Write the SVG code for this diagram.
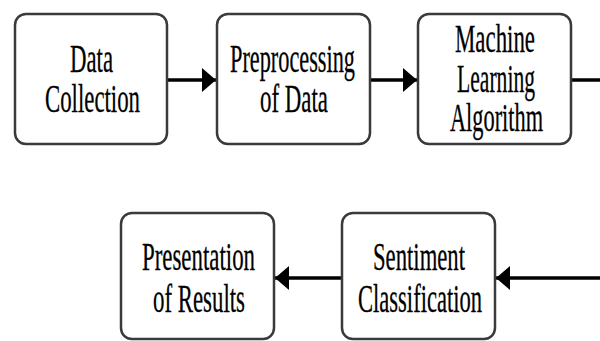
<svg xmlns="http://www.w3.org/2000/svg" width="600" height="341" viewBox="0 0 600 341">
<style>
.box{fill:#fff;stroke:#3a3a3a;stroke-width:2.5}
.t{font-family:'Liberation Serif','Times New Roman',serif;font-size:39px;fill:#000;stroke:#000;stroke-width:0.3;text-anchor:middle}
.c{stroke:#000;stroke-width:3.5;fill:none}
</style>
<defs>
<marker id="ah" markerUnits="userSpaceOnUse" markerWidth="16" markerHeight="26" refX="14" refY="12" orient="auto">
<path d="M0,0 L14,12 L0,24 Z" fill="#000"/>
</marker>
</defs>
<rect width="600" height="341" fill="#fff"/>
<g id="connectors">
<line class="c" x1="167" y1="80" x2="216" y2="80" marker-end="url(#ah)"/>
<line class="c" x1="370" y1="80" x2="417" y2="80" marker-end="url(#ah)"/>
<line class="c" x1="571" y1="80" x2="600" y2="80"/>
<line class="c" x1="600" y1="278" x2="496" y2="278" marker-end="url(#ah)"/>
<line class="c" x1="342" y1="278" x2="275" y2="278" marker-end="url(#ah)"/>
</g>
<g id="data-collection">
<rect class="box" x="15" y="14" width="152" height="130" rx="11"/>
<text class="t" x="91.5" y="72" textLength="43" lengthAdjust="spacingAndGlyphs">Data</text>
<text class="t" x="92.5" y="112" textLength="95" lengthAdjust="spacingAndGlyphs">Collection</text>
</g>
<g id="preprocessing">
<rect class="box" x="217" y="14" width="153" height="130" rx="11"/>
<text class="t" x="292.5" y="72" textLength="125" lengthAdjust="spacingAndGlyphs">Preprocessing</text>
<text class="t" x="294" y="112" textLength="68" lengthAdjust="spacingAndGlyphs">of Data</text>
</g>
<g id="ml-algorithm">
<rect class="box" x="418" y="14" width="153" height="130" rx="11"/>
<text class="t" x="495" y="52" textLength="80" lengthAdjust="spacingAndGlyphs">Machine</text>
<text class="t" x="496" y="92" textLength="78" lengthAdjust="spacingAndGlyphs">Learning</text>
<text class="t" x="496.5" y="131" textLength="93" lengthAdjust="spacingAndGlyphs">Algorithm</text>
</g>
<g id="presentation">
<rect class="box" x="121" y="213" width="153" height="126" rx="11"/>
<text class="t" x="198.5" y="270" textLength="113" lengthAdjust="spacingAndGlyphs">Presentation</text>
<text class="t" x="199" y="312" textLength="92" lengthAdjust="spacingAndGlyphs">of Results</text>
</g>
<g id="sentiment">
<rect class="box" x="342" y="213" width="153" height="126" rx="11"/>
<text class="t" x="419" y="270" textLength="92" lengthAdjust="spacingAndGlyphs">Sentiment</text>
<text class="t" x="420" y="312" textLength="124" lengthAdjust="spacingAndGlyphs">Classification</text>
</g>
</svg>
